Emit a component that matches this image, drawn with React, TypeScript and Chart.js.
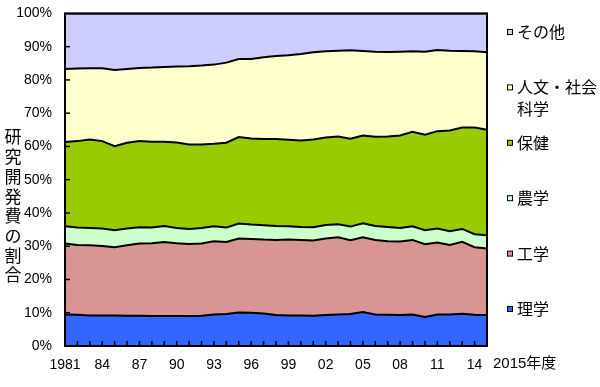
import React, { useEffect, useRef } from "react";
import { Chart, registerables } from "chart.js";

Chart.register(...registerables);

const years = [
  "1981", "1982", "1983", "1984", "1985", "1986", "1987", "1988", "1989", "1990",
  "1991", "1992", "1993", "1994", "1995", "1996", "1997", "1998", "1999", "2000",
  "2001", "2002", "2003", "2004", "2005", "2006", "2007", "2008", "2009", "2010",
  "2011", "2012", "2013", "2014", "2015",
];

const xTickLabels = [
  "1981", "", "", "84", "", "", "87", "", "", "90", "", "", "93", "", "", "96", "", "",
  "99", "", "", "02", "", "", "05", "", "", "08", "", "", "11", "", "", "14", "",
];
const xEndLabel = "2015年度";
const yTitle = "研究開発費の割合";

const rigaku = [9.5, 9.4, 9.2, 9.2, 9.2, 9.1, 9.1, 9.0, 9.0, 9.0, 9.0, 9.1, 9.5, 9.6, 10.1, 10.0, 9.8, 9.3, 9.2, 9.2, 9.1, 9.3, 9.5, 9.6, 10.2, 9.5, 9.4, 9.3, 9.5, 8.7, 9.5, 9.5, 9.7, 9.4, 9.3];
const kogaku = [21.3, 21.0, 21.1, 20.9, 20.5, 21.2, 21.7, 21.9, 22.3, 21.9, 21.7, 21.7, 22.0, 21.7, 22.2, 22.2, 22.2, 22.6, 22.8, 22.7, 22.6, 23.0, 23.2, 22.2, 22.5, 22.4, 22.1, 22.1, 22.4, 21.9, 21.6, 20.9, 21.6, 20.3, 20.0];
const nogaku = [5.2, 5.2, 5.2, 5.2, 5.1, 5.0, 4.9, 4.7, 4.8, 4.6, 4.5, 4.7, 4.5, 4.3, 4.5, 4.3, 4.3, 4.2, 4.0, 3.9, 4.0, 4.1, 3.9, 4.1, 4.2, 4.2, 4.3, 4.1, 4.1, 4.2, 4.2, 4.1, 3.9, 3.9, 4.0];
const hoken = [25.3, 26.0, 26.6, 26.3, 25.3, 25.8, 25.9, 25.8, 25.3, 25.7, 25.4, 25.1, 24.8, 25.5, 26.0, 25.9, 25.9, 26.1, 26.0, 26.0, 26.4, 26.3, 26.4, 26.4, 26.4, 26.8, 27.2, 27.8, 28.4, 28.7, 29.3, 30.3, 30.5, 32.1, 31.7];
const jinbun = [22.0, 21.8, 21.4, 21.9, 22.9, 22.2, 22.0, 22.3, 22.5, 22.8, 23.5, 23.7, 23.8, 24.1, 23.5, 23.9, 24.6, 25.0, 25.4, 26.0, 26.2, 25.9, 25.8, 26.6, 25.4, 25.6, 25.4, 25.2, 24.2, 25.0, 24.4, 24.0, 23.0, 22.9, 23.3];
const sonota = [16.7, 16.6, 16.5, 16.5, 17.0, 16.7, 16.4, 16.3, 16.1, 16.0, 15.9, 15.7, 15.4, 14.8, 13.7, 13.7, 13.2, 12.8, 12.6, 12.2, 11.7, 11.4, 11.2, 11.1, 11.3, 11.5, 11.6, 11.5, 11.4, 11.5, 11.0, 11.2, 11.3, 11.4, 11.7];

const seriesNames = ["理学", "工学", "農学", "保健", "人文・社会科学", "その他"];
const seriesColors = ["#3366FF", "#D99594", "#CCFFCC", "#99CC00", "#FFFFCC", "#CCCCFF"];
const legendLines = [["その他"], ["人文・社会", "科学"], ["保健"], ["農学"], ["工学"], ["理学"]];
const legendColors = ["#CCCCFF", "#FFFFCC", "#99CC00", "#CCFFCC", "#D99594", "#3366FF"];

const LATIN = '"Liberation Sans", Arial, "Noto Sans CJK JP", sans-serif';
const CJK = '"Noto Sans CJK JP", "Noto Sans CJK SC", sans-serif';

const decorPlugin = {
  id: "decor",
  afterDraw(chart: any) {
    const { ctx, chartArea: a, scales } = chart;
    const xs = scales.x;
    const ys = scales.y;
    ctx.save();
    ctx.strokeStyle = "#000";
    ctx.lineWidth = 1.5;
    for (let v = 10; v < 100; v += 10) {
      const py = ys.getPixelForValue(v);
      ctx.beginPath();
      ctx.moveTo(a.left, py);
      ctx.lineTo(a.left + 5, py);
      ctx.stroke();
    }
    for (let i = 1; i < years.length - 1; i++) {
      const px = xs.getPixelForValue(i);
      ctx.beginPath();
      ctx.moveTo(px, a.bottom);
      ctx.lineTo(px, a.bottom - 5);
      ctx.stroke();
    }
    ctx.lineWidth = 2;
    ctx.strokeRect(a.left, a.top, a.right - a.left, a.bottom - a.top);

    // end label
    ctx.fillStyle = "#000";
    ctx.font = `15px ${LATIN}`;
    ctx.textAlign = "left";
    ctx.textBaseline = "middle";
    const lastX = xs.getPixelForValue(years.length - 1);
    ctx.fillText(xEndLabel, lastX + 6, 364);

    // y title (vertical, upright chars)
    ctx.font = `17px ${CJK}`;
    ctx.textAlign = "center";
    const chars = Array.from(yTitle);
    chars.forEach((c, k) => {
      ctx.fillText(c, 13, 137 + k * 19.7);
    });

    // legend
    ctx.font = `16px ${CJK}`;
    ctx.textAlign = "left";
    legendLines.forEach((lines, k) => {
      const cy = 32 + k * 55.4;
      ctx.fillStyle = legendColors[k];
      ctx.fillRect(507.5, cy - 2.5, 5, 5);
      ctx.lineWidth = 1;
      ctx.strokeStyle = "#000";
      ctx.strokeRect(507.5, cy - 2.5, 5, 5);
      ctx.fillStyle = "#000";
      lines.forEach((t, j) => {
        ctx.fillText(t, 517, cy + j * 22);
      });
    });
    ctx.restore();
  },
};

export default function App() {
  const ref = useRef<HTMLCanvasElement | null>(null);

  useEffect(() => {
    if (!ref.current) return;
    const values = [rigaku, kogaku, nogaku, hoken, jinbun, sonota];
    const chart = new Chart(ref.current, {
      type: "line",
      data: {
        labels: years,
        datasets: values.map((d, i) => ({
          label: seriesNames[i],
          data: d,
          backgroundColor: seriesColors[i],
          borderColor: "#000",
          borderWidth: 2,
          fill: i === 0 ? "origin" : "-1",
          pointRadius: 0,
          tension: 0,
        })),
      },
      options: {
        responsive: false,
        animation: false,
        layout: { padding: { left: 0, right: 113, top: 8, bottom: 0 } },
        plugins: { legend: { display: false }, tooltip: { enabled: false } },
        scales: {
          x: {
            grid: { display: false },
            border: { display: false },
            ticks: {
              autoSkip: false,
              maxRotation: 0,
              minRotation: 0,
              padding: 3,
              color: "#000",
              font: { family: LATIN, size: 14 },
              callback: (_v: any, i: number) => xTickLabels[i],
            },
            afterFit: (s: any) => {
              s.height = 41;
            },
          },
          y: {
            stacked: true,
            min: 0,
            max: 100,
            grid: { display: false },
            border: { display: false },
            ticks: {
              stepSize: 10,
              padding: 5,
              color: "#000",
              font: { family: LATIN, size: 14 },
              callback: (v: any) => `${v}%`,
            },
            afterFit: (s: any) => {
              s.width = 65;
            },
          },
        },
      },
      plugins: [decorPlugin],
    });
    return () => chart.destroy();
  }, []);

  return (
    <div style={{ position: "absolute", left: 0, top: 0, width: 600, height: 387, background: "#fff" }}>
      <canvas ref={ref} width={600} height={387} style={{ display: "block" }} />
    </div>
  );
}
